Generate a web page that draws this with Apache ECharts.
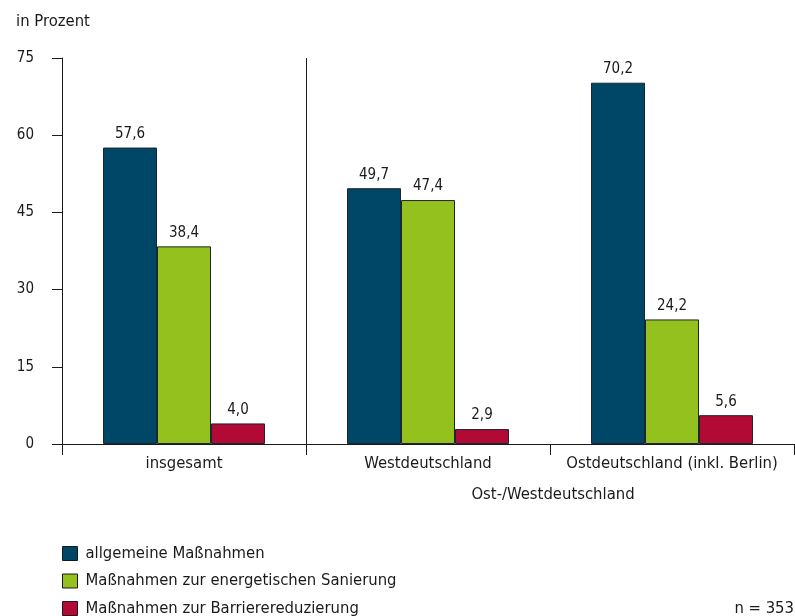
<!DOCTYPE html>
<html><head><meta charset="utf-8">
<script src="https://cdn.jsdelivr.net/npm/echarts@6/dist/echarts.min.js"></script>
<style>html,body{margin:0;padding:0;background:#fff}#c{width:795px;height:616px}</style>
</head><body><div id="c"></div>
<script>
const categories = ['insgesamt', 'Westdeutschland', 'Ostdeutschland (inkl. Berlin)'];
const seriesNames = ['allgemeine Maßnahmen', 'Maßnahmen zur energetischen Sanierung', 'Maßnahmen zur Barrierereduzierung'];
const allgemein = [57.6, 49.7, 70.2];
const energetisch = [38.4, 47.4, 24.2];
const barriere = [4.0, 2.9, 5.6];
const yTicks = [0, 15, 30, 45, 60, 75];
const separatorAfter = 1; // vertical divider between "insgesamt" and the regional groups
const colors = ['#004666', '#95c11f', '#b20a35'];

const FONT = '"DejaVu Sans Condensed", "DejaVu Sans", sans-serif';
const WORD = 16.5, NUM = 15;
const txt = {fontFamily: FONT, fontSize: WORD, color: '#1a1a1a', fontWeight: 'normal'};
const chart = echarts.init(document.getElementById('c'), null, {renderer: 'canvas'});
const values = [allgemein, energetisch, barriere];
const series = seriesNames.map((n, k) => ({
  name: n, type: 'bar', data: values[k], barWidth: 54, barGap: '0%',
  itemStyle: {color: colors[k], borderColor: '#1a2630', borderWidth: 1},
  label: {show: true, position: 'top', distance: 6, fontFamily: FONT, fontSize: NUM, color: '#1a1a1a',
    formatter: p => p.value.toFixed(1).replace('.', ',')}
}));
series.push({
  type: 'line', xAxisIndex: 1, data: [], silent: true,
  markLine: {silent: true, symbol: 'none', label: {show: false},
    lineStyle: {color: '#1a1a1a', width: 1, type: 'solid'},
    data: [{xAxis: separatorAfter}]}
});
chart.setOption({
  animation: false,
  textStyle: {fontFamily: FONT},
  grid: {left: 62, right: 1, top: 58, bottom: 172, containLabel: false},
  title: [
    {text: 'in Prozent', left: 14, top: 13, padding: [0, 0, 0, 2], textStyle: txt},
    {text: 'Ost-/Westdeutschland', left: 553, textAlign: 'center', top: 486, padding: 0, textStyle: txt},
    {text: 'n = 353', right: 1, top: 600, padding: 0, textStyle: txt}
  ],
  legend: {
    orient: 'vertical', left: 62, top: 545, height: 120, padding: 0, itemWidth: 15, itemHeight: 14, itemGap: 10.5,
    icon: 'rect', textStyle: Object.assign({}, txt, {lineHeight: 14, padding: [0, 0, 0, 3]}),
    itemStyle: {borderColor: '#1a1a1a', borderWidth: 1},
    data: seriesNames
  },
  xAxis: [{
    type: 'category', data: categories,
    axisLine: {show: true, lineStyle: {color: '#1a1a1a', width: 1}},
    axisTick: {show: true, interval: 0, length: 11, alignWithLabel: false, lineStyle: {color: '#1a1a1a'}},
    axisLabel: Object.assign({}, txt, {margin: 11, interval: 0, hideOverlap: false}),
    splitLine: {show: false}
  }, {
    type: 'value', min: 0, max: categories.length, show: false
  }],
  yAxis: {
    type: 'value', min: yTicks[0], max: yTicks[yTicks.length - 1], interval: 15,
    axisLine: {show: true, lineStyle: {color: '#1a1a1a', width: 1}},
    axisTick: {show: true, length: 10, lineStyle: {color: '#1a1a1a'}},
    axisLabel: {fontFamily: FONT, fontSize: NUM, color: '#1a1a1a', margin: 28},
    splitLine: {show: false}
  },
  series: series
});
</script></body></html>
